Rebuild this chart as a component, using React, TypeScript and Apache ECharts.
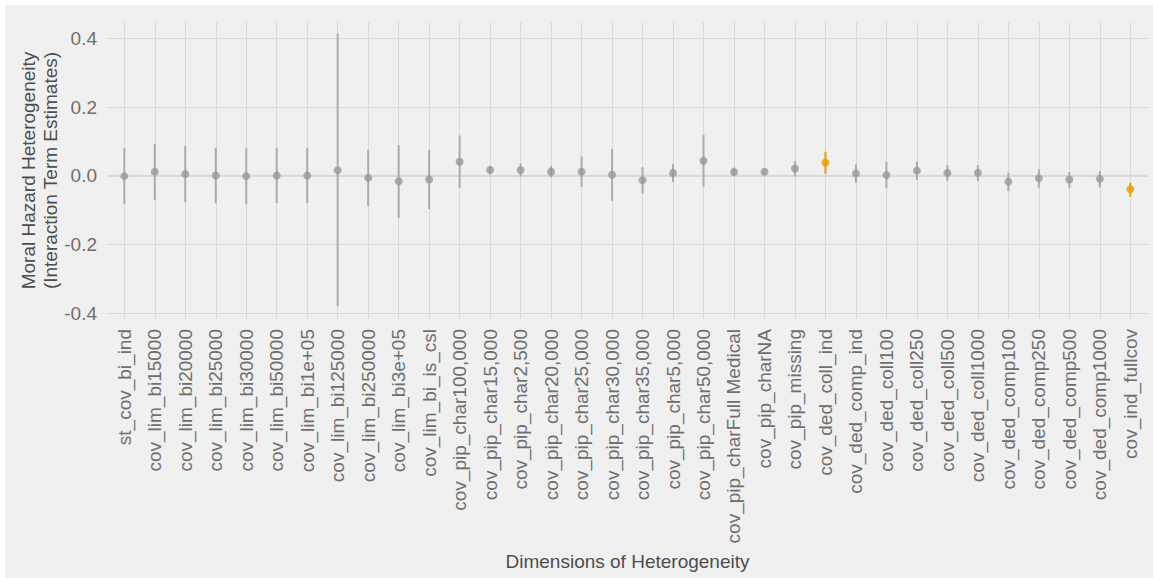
import React, { useEffect, useRef } from "react";
import * as echarts from "echarts";

const categories = [
  "st_cov_bi_ind",
  "cov_lim_bi15000",
  "cov_lim_bi20000",
  "cov_lim_bi25000",
  "cov_lim_bi30000",
  "cov_lim_bi50000",
  "cov_lim_bi1e+05",
  "cov_lim_bi125000",
  "cov_lim_bi250000",
  "cov_lim_bi3e+05",
  "cov_lim_bi_is_csl",
  "cov_pip_char100,000",
  "cov_pip_char15,000",
  "cov_pip_char2,500",
  "cov_pip_char20,000",
  "cov_pip_char25,000",
  "cov_pip_char30,000",
  "cov_pip_char35,000",
  "cov_pip_char5,000",
  "cov_pip_char50,000",
  "cov_pip_charFull Medical",
  "cov_pip_charNA",
  "cov_pip_missing",
  "cov_ded_coll_ind",
  "cov_ded_comp_ind",
  "cov_ded_coll100",
  "cov_ded_coll250",
  "cov_ded_coll500",
  "cov_ded_coll1000",
  "cov_ded_comp100",
  "cov_ded_comp250",
  "cov_ded_comp500",
  "cov_ded_comp1000",
  "cov_ind_fullcov",
];

const estimates = [
  -0.001, 0.012, 0.005, 0.001, -0.001, 0.001, 0.001, 0.016, -0.006, -0.016,
  -0.011, 0.041, 0.017, 0.017, 0.012, 0.012, 0.003, -0.013, 0.008, 0.044,
  0.011, 0.012, 0.021, 0.039, 0.007, 0.002, 0.015, 0.008, 0.009, -0.017,
  -0.007, -0.011, -0.009, -0.039,
];

const lowerBounds = [
  -0.083, -0.07, -0.077, -0.08, -0.083, -0.08, -0.08, -0.379, -0.088, -0.123,
  -0.097, -0.035, 0.004, -0.002, -0.005, -0.032, -0.073, -0.052, -0.018, -0.032,
  -0.001, 0.002, -0.002, 0.006, -0.02, -0.036, -0.012, -0.015, -0.015, -0.045,
  -0.035, -0.035, -0.034, -0.061,
];

const upperBounds = [
  0.08, 0.093, 0.087, 0.081, 0.08, 0.081, 0.081, 0.414, 0.075, 0.089,
  0.075, 0.117, 0.029, 0.036, 0.029, 0.056, 0.078, 0.025, 0.034, 0.119,
  0.024, 0.021, 0.043, 0.07, 0.033, 0.041, 0.041, 0.031, 0.031, 0.009,
  0.019, 0.011, 0.014, -0.02,
];

const highlighted = ["cov_ded_coll_ind", "cov_ind_fullcov"];

const GRAY_POINT = "#999999";
const GRAY_BAR = "#ababab";
const ORANGE = "#E69F00";
const GRID_COLOR = "#d9d9d9";
const TICK_COLOR = "#6e6e6e";
const TITLE_COLOR = "#4d4d4d";
const FONT = "'Liberation Sans', Arial, Helvetica, sans-serif";

export default function App() {
  const ref = useRef<HTMLDivElement>(null);

  useEffect(() => {
    if (!ref.current) return;
    const chart = echarts.init(ref.current, undefined, { renderer: "svg" });

    const colorFor = (i: number) =>
      highlighted.includes(categories[i]) ? ORANGE : GRAY_POINT;
    const barColorFor = (i: number) =>
      highlighted.includes(categories[i]) ? ORANGE : GRAY_BAR;

    const errData = categories.map((c, i) => [i, lowerBounds[i], upperBounds[i]]);
    const pointData = categories.map((c, i) => ({
      value: [i, estimates[i]],
      itemStyle: { color: colorFor(i) },
    }));

    chart.setOption({
      animation: false,
      backgroundColor: "#f0f0f0",
      textStyle: { fontFamily: FONT },
      grid: [
        { left: 102, top: 33.3, width: 1041, height: 275, containLabel: false },
        { left: 119.3, top: 17, width: 1006, height: 297, containLabel: false },
      ],
      xAxis: [
        {
          type: "value",
          gridIndex: 0,
          min: 0,
          max: 1,
          show: false,
        },
        {
          type: "category",
          gridIndex: 1,
          data: categories,
          boundaryGap: false,
          axisLine: { show: false },
          axisTick: { show: false },
          axisLabel: {
            interval: 0,
            rotate: 90,
            margin: 10,
            fontSize: 19,
            color: TICK_COLOR,
            fontFamily: FONT,
            hideOverlap: false,
          },
          splitLine: {
            show: true,
            interval: 0,
            lineStyle: { color: GRID_COLOR, width: 1 },
          },
        },
      ],
      yAxis: [
        {
          type: "value",
          gridIndex: 0,
          min: -0.4,
          max: 0.4,
          interval: 0.2,
          axisLine: { show: false },
          axisTick: { show: false },
          axisLabel: {
            margin: 10,
            fontSize: 19,
            color: TICK_COLOR,
            fontFamily: FONT,
            formatter: (v: number) => v.toFixed(1),
          },
          splitLine: { show: true, lineStyle: { color: GRID_COLOR, width: 1 } },
        },
        {
          type: "value",
          gridIndex: 1,
          min: -0.4166,
          max: 0.4474,
          show: false,
          splitLine: { show: false },
        },
      ],
      graphic: [
        {
          type: "text",
          x: 34.5,
          y: 165.5,
          rotation: Math.PI / 2,
          style: {
            text: "Moral Hazard Heterogeneity\n(Interaction Term Estimates)",
            fontSize: 19,
            lineHeight: 22.6,
            fontFamily: FONT,
            fill: TITLE_COLOR,
            align: "center",
            verticalAlign: "middle",
          },
        },
        {
          type: "text",
          x: 622.5,
          y: 556,
          style: {
            text: "Dimensions of Heterogeneity",
            fontSize: 19,
            fontFamily: FONT,
            fill: TITLE_COLOR,
            align: "center",
            verticalAlign: "middle",
          },
        },
      ],
      series: [
        {
          type: "line",
          xAxisIndex: 0,
          yAxisIndex: 0,
          data: [
            [0, 0],
            [1, 0],
          ],
          symbol: "none",
          silent: true,
          lineStyle: { color: GRID_COLOR, width: 2 },
          z: 1,
        },
        {
          type: "custom",
          xAxisIndex: 1,
          yAxisIndex: 1,
          data: errData,
          clip: false,
          silent: true,
          z: 2,
          renderItem: (params: any, api: any) => {
            const idx = params.dataIndex;
            const x = api.value(0);
            const p1 = api.coord([x, api.value(1)]);
            const p2 = api.coord([x, api.value(2)]);
            return {
              type: "line",
              shape: { x1: p1[0], y1: p1[1], x2: p2[0], y2: p2[1] },
              style: { stroke: barColorFor(idx), lineWidth: 2 },
            };
          },
        },
        {
          type: "scatter",
          xAxisIndex: 1,
          yAxisIndex: 1,
          data: pointData,
          symbol: "circle",
          symbolSize: 8,
          silent: true,
          z: 3,
        },
      ],
    });

    return () => chart.dispose();
  }, []);

  return (
    <div
      ref={ref}
      style={{ position: "fixed", left: 5, top: 5, width: 1148, height: 573 }}
    />
  );
}
